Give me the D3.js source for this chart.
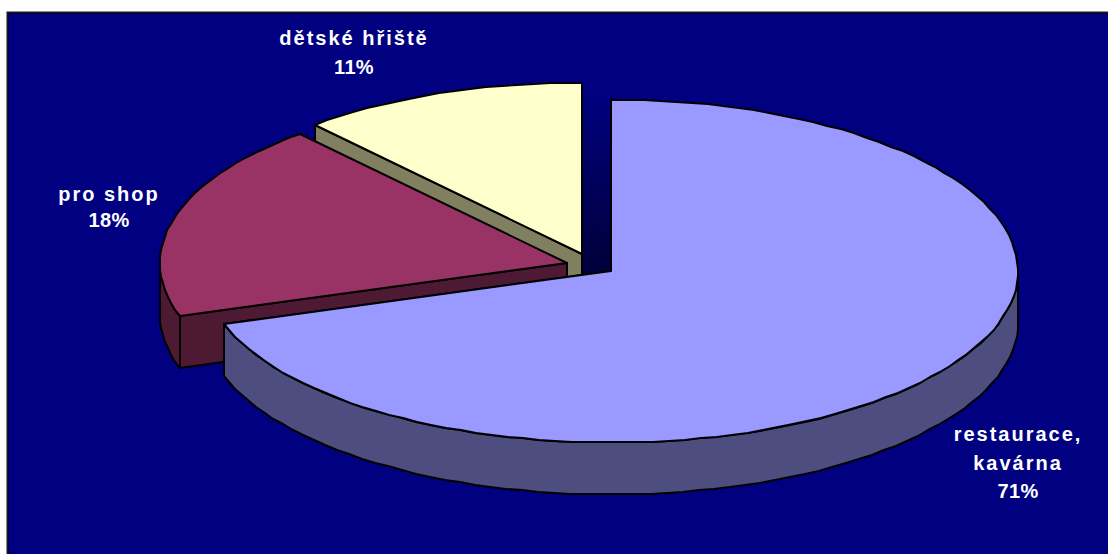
<!DOCTYPE html>
<html><head><meta charset="utf-8">
<script src="https://cdn.jsdelivr.net/npm/d3@7/dist/d3.min.js"></script>
<style>html,body{margin:0;padding:0;background:#fff}svg{display:block}text{font-family:"Liberation Sans",Arial,sans-serif;font-weight:700;font-size:20px;fill:#fff;text-anchor:middle}</style>
</head><body><svg id="c" width="1108" height="554"></svg>
<script>
const categories = ["restaurace, kavárna", "pro shop", "dětské hřiště"];
const values = [70.0, 18.6, 11.4];
const percentLabels = ["71%", "18%", "11%"];
const labelLines = [["restaurace,", "kavárna"], ["pro shop"], ["dětské hřiště"]];
const topColors = ["#9999ff", "#993366", "#ffffcc"];
const sideColors = ["#4d4d80", "#4d1933", "#808060"];
const apexes = [[611, 271], [567, 263], [582, 254]];
const labelPos = [[1018, 441], [109, 201], [354, 45]];
const labelGaps = [28.5, 26, 29];
const RX = 407, RY = 171.5, DEPTH = 52;

const svg = d3.select("#c");
const grad = svg.append("defs").append("radialGradient").attr("id", "bg")
  .attr("gradientUnits", "userSpaceOnUse").attr("cx", 597).attr("cy", 275).attr("r", 240);
grad.append("stop").attr("offset", 0).attr("stop-color", "#000038");
grad.append("stop").attr("offset", 0.75).attr("stop-color", "#000080");

svg.append("rect").attr("x", 8).attr("y", 13).attr("width", 1100).attr("height", 541).attr("fill", "url(#bg)");
svg.append("path").attr("d", "M7.5,554V12.5H1108").attr("fill", "none").attr("stroke", "#000").attr("stroke-width", 2).style("stroke-opacity", 0.9);

const arcs = d3.pie().sort(null).startAngle(0).endAngle(2 * Math.PI)(values);
const xUnit = d3.scaleLinear().domain([-1, 1]).range([-RX, RX]);
const yUnit = d3.scaleLinear().domain([-1, 1]).range([RY, -RY]);
const rounded = d3.line().x(d => Math.round(d[0])).y(d => Math.round(d[1]));
const rim = (i, a) => [apexes[i][0] + xUnit(Math.sin(a)), apexes[i][1] + yUnit(Math.cos(a))];
const down = p => [p[0], p[1] + DEPTH];
const sweep = (i, a0, a1) => d3.range(0, 1.0001, 1 / Math.max(1, Math.ceil(Math.abs(a1 - a0) / 0.04))).map(t => rim(i, a0 + (a1 - a0) * t));
const sty = (s, fill) => s.attr("fill", fill).attr("stroke", "#000").attr("stroke-width", 2).attr("stroke-linejoin", "round");

// back to front: last slice first
[2, 1, 0].forEach(i => {
  const a = arcs[i], ap = apexes[i];
  const start = a.startAngle, end = a.endAngle;
  // radial cut face that faces the viewer
  const faceAngle = i === 0 ? end : start;
  const fp = rim(i, faceAngle);
  sty(svg.append("path").attr("d", rounded([ap, fp, down(fp), down(ap)]) + "Z"), sideColors[i]);
  // front wall below the rim
  const w0 = Math.max(start, Math.PI / 2), w1 = Math.min(end, 3 * Math.PI / 2);
  if (w1 > w0) {
    const top = sweep(i, w0, w1);
    sty(svg.append("path").attr("d", rounded(top.concat(top.map(down).reverse())) + "Z"), sideColors[i]);
  }
  sty(svg.append("path").attr("d", rounded([ap].concat(sweep(i, start, end))) + "Z"), topColors[i]);
});

categories.forEach((c, i) => {
  labelLines[i].forEach((t, j) => svg.append("text").attr("x", labelPos[i][0]).attr("y", labelPos[i][1] + j * labelGaps[i]).attr("letter-spacing", 2).text(t));
  svg.append("text").attr("x", labelPos[i][0]).attr("y", labelPos[i][1] + labelLines[i].length * labelGaps[i]).attr("letter-spacing", 0.3).text(percentLabels[i]);
});
</script></body></html>
